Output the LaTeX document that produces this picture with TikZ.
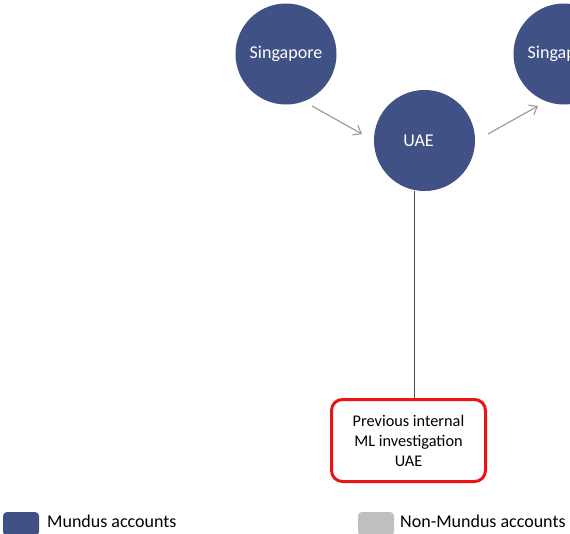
\documentclass[tikz,border=0pt]{standalone}
\usepackage{fontspec}
\setmainfont{Carlito}
\usetikzlibrary{arrows.meta}
\definecolor{mundus}{RGB}{63,81,133}
\definecolor{nonmundus}{RGB}{191,191,191}
\definecolor{flow}{RGB}{150,150,150}
\definecolor{alert}{RGB}{235,20,20}
\tikzset{
  acct/.style={circle, fill=mundus, draw=none, minimum size=101pt, inner sep=0pt,
    text=white, font=\fontsize{18}{20}\selectfont},
  flowarrow/.style={draw=flow, line width=1.1pt, -{Straight Barb[length=7pt,width=11pt]}},
  link/.style={draw=black!70, line width=0.8pt},
  notebox/.style={draw=alert, line width=3pt, rounded corners=11pt, fill=white,
    minimum width=154pt, minimum height=82pt, align=center,
    font=\fontsize{16.3}{20}\selectfont},
  swatch/.style={rounded corners=4pt, minimum width=36pt, minimum height=24pt, inner sep=0pt},
  legendtext/.style={anchor=west, font=\fontsize{18}{20}\selectfont, inner sep=0pt}
}
\begin{document}
\begin{tikzpicture}[x=1pt,y=-1pt]
\useasboundingbox (0,0) rectangle (570,533);
% account nodes
\node[acct] (sg1) at (286,54) {Singapore};
\node[acct, label={[text=white, font=\fontsize{18}{20}\selectfont, xshift=-6pt]center:UAE}] (uae) at (424.5,140.5) {};
\node[acct] (sg2) at (564,54) {Singapore};
% flows between accounts
\draw[flowarrow] ([shift={(26,52)}]sg1.center) -- ([shift={(-62.5,-6.5)}]uae.center);
\draw[flowarrow] ([shift={(63.5,-6.5)}]uae.center) -- ([shift={(-26,52)}]sg2.center);
% investigation note
\node[notebox] (note) at (408.5,440.5) {Previous internal\\ML investigation\\UAE};
\draw[link] ([xshift=-10.5pt]uae.south) -- ([xshift=5.5pt]note.north);
% legend
\node[swatch, fill=mundus] (lg1) at (21,524) {};
\node[legendtext] (lt1) at (47,521) {Mundus accounts};
\node[swatch, fill=nonmundus] (lg2) at (376,524) {};
\node[legendtext] (lt2) at (400,521) {Non-Mundus accounts};
\end{tikzpicture}
\end{document}
